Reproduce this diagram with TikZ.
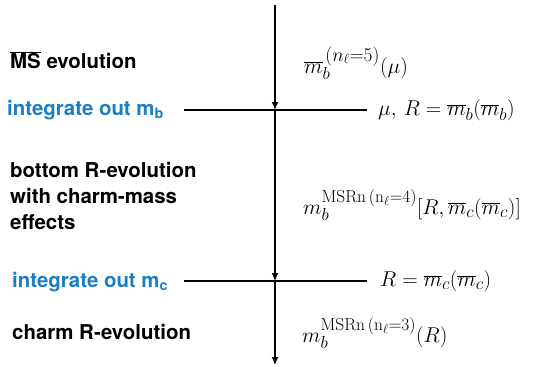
\RequirePackage{fix-cm}
\documentclass[tikz,border=0pt]{standalone}
\usepackage{fontspec}
\setsansfont{TeX Gyre Heros}
\usetikzlibrary{arrows.meta}
\DeclareMathSizes{21.5}{21.5}{17.5}{13}
\definecolor{StepBlue}{HTML}{1B7EC2}
\tikzset{
  stage/.style={anchor=west,font=\sffamily\bfseries\fontsize{20.5}{26}\selectfont,align=left,inner sep=0pt},
  mass/.style={anchor=west,font=\fontsize{21.5}{25}\selectfont,inner sep=0pt},
  scale line/.style={line width=1.3bp},
}
\begin{document}
\begin{tikzpicture}[x=1bp,y=-1bp]
  \useasboundingbox (0,0) rectangle (534,366);
  % running scale and the two thresholds
  \coordinate (top) at (275,5); \coordinate (bot) at (275,365);
  \coordinate (thb) at (275,110); \coordinate (thc) at (275,281);
  \coordinate (thbL) at (184,110); \coordinate (thbR) at (367,110);
  \coordinate (thcL) at (184,281); \coordinate (thcR) at (367,281);
  \draw[scale line] (thbL)--(thbR); \draw[scale line] (thcL)--(thcR);
  \draw[scale line,-{Latex[length=8bp,width=7bp]}] (top)--(thb);
  \draw[scale line,-{Latex[length=8bp,width=7bp]}] (thb)--(thc);
  \draw[scale line,-{Latex[length=8bp,width=7bp]}] (thc)--(bot);
  % left: what happens
  \node[stage] (msbar) at (10,60) {$\overline{\hbox{MS}}$ evolution};
  \node[stage,StepBlue] (outb) at (7,110) {integrate out m\textsubscript{b}};
  \node[stage] (bottomR) at (10,196) {bottom R-evolution\\with charm-mass\\effects};
  \node[stage,StepBlue] (outc) at (12,282) {integrate out m\textsubscript{c}};
  \node[stage] (charmR) at (12,332) {charm R-evolution};
  % right: the masses and scales
  \node[mass] (m5) at (304,63) {$\overline{m}_b^{\,\mbox{\fontsize{19.5}{21}\selectfont$(n_\ell{=}5)$}}(\mu)$};
  \node[mass] (scb) at (378,110) {$\mu,\,R=\overline{m}_b(\overline{m}_b)$};
  \node[mass] (m4) at (303,205) {$m_b^{\mathrm{MSRn}\,(\mathrm{n}_\ell=4)}[R,\overline{m}_c(\overline{m}_c)]$};
  \node[mass] (scc) at (380,281) {$R=\overline{m}_c(\overline{m}_c)$};
  \node[mass] (m3) at (302,333) {$m_b^{\mathrm{MSRn}\,(\mathrm{n}_\ell=3)}(R)$};
\end{tikzpicture}
\end{document}
